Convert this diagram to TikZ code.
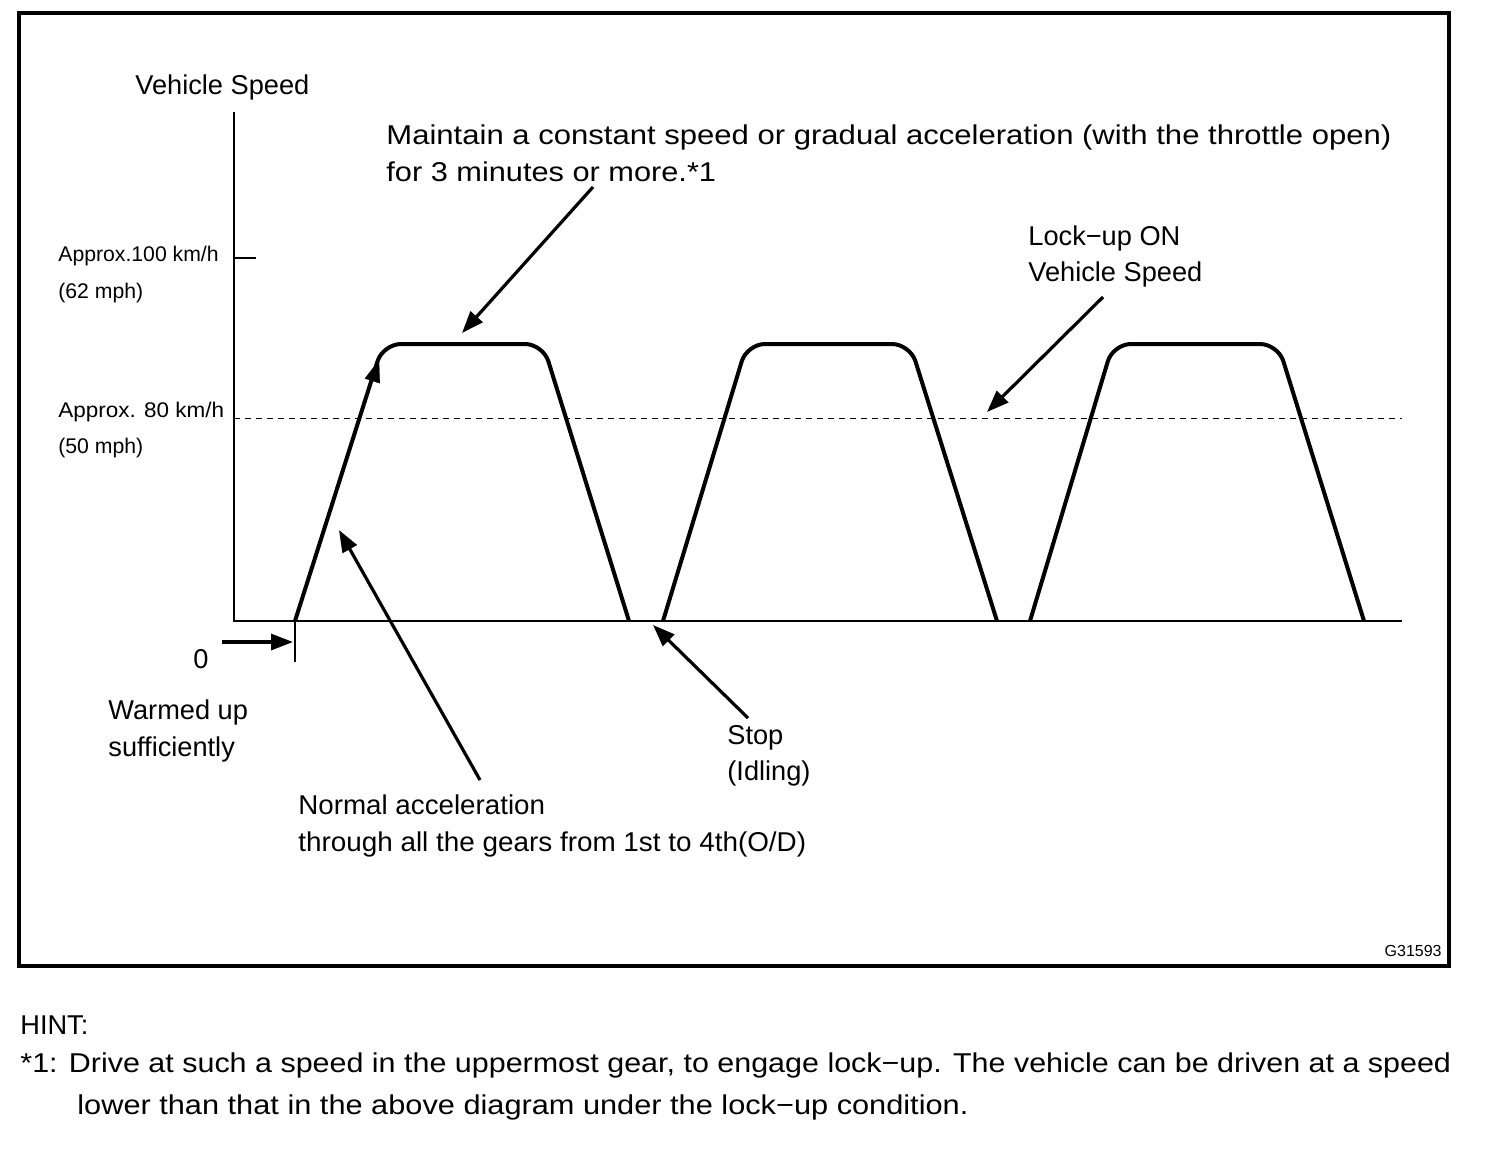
\documentclass[tikz,border=0pt]{standalone}
\usepackage{fontspec}
\usepackage{graphicx}
\setmainfont{Liberation Sans}
\usetikzlibrary{arrows.meta}
\tikzset{
  lbl/.style={anchor=base west,inner sep=0pt,font=\fontsize{13.6}{16}\selectfont},
  small/.style={anchor=base west,inner sep=0pt,font=\fontsize{10.6}{13}\selectfont},
  curve/.style={line width=2pt,rounded corners=9pt},
  axis/.style={line width=1.3pt},
  pointer/.style={line width=1.6pt,-{Triangle[length=11pt,width=8pt]}},
}
\begin{document}
\begin{tikzpicture}[x=0.5pt,y=-0.5pt]
\useasboundingbox (0,0) rectangle (1504,1158);
\draw[line width=1.6pt] (19,13) rectangle (1449,966);
% axes
\coordinate (ytop) at (234,112);
\coordinate (orig) at (234,621);
\coordinate (xend) at (1402,621);
\draw[axis] (ytop) -- (orig) -- (xend);
\draw[axis] (234,258) -- (256,258);
\draw[line width=0.5pt,dash pattern=on 3pt off 2.5pt] (234,418) -- (1402,418);
\draw[line width=0.6pt] (295,621) -- (295,662);
% trapezoids
\draw[curve] (295,621) -- (383,344) -- (543,344) -- (629,621);
\draw[curve] (663,621) -- (747,344) -- (910,344) -- (997,621);
\draw[curve] (1030,621) -- (1113,344) -- (1278,344) -- (1364,621);
\coordinate (rampA) at (360,420);
\coordinate (rampB) at (379,360);
\draw[line width=0.1pt,-{Triangle[length=11pt,width=8pt]}] (rampA) -- (rampB);
% labels
\node[lbl] (vs) at (135,94) {Vehicle Speed};
\node[lbl] (m1) at (386,144) {\scalebox{1.142}[1]{Maintain a constant speed or gradual acceleration (with the throttle open)}};
\node[lbl] (m2) at (386,181) {\scalebox{1.13}[1]{for 3 minutes or more.*1}};
\node[lbl] (l1) at (1028,245) {Lock−up ON};
\node[lbl] (l2) at (1028,281) {Vehicle Speed};
\node[small] (a1) at (58,261) {Approx.100 km/h};
\node[small] (a2) at (58,298) {(62 mph)};
\node[small] (b1) at (58,417) {\scalebox{1.06}[1]{Approx. 80 km/h}};
\node[small] (b2) at (58,453) {(50 mph)};
\node[lbl] (zero) at (193,668) {0};
\node[lbl] (w1) at (108,719) {Warmed up};
\node[lbl] (w2) at (108,756) {sufficiently};
\node[lbl] (s1) at (727,744) {Stop};
\node[lbl] (s2) at (727,780) {(Idling)};
\node[lbl] (n1) at (298,814) {\scalebox{1.02}[1]{Normal acceleration}};
\node[lbl] (n2) at (298,851) {\scalebox{1.024}[1]{through all the gears from 1st to 4th(O/D)}};
\node[anchor=base east,inner sep=0pt,font=\fontsize{8}{9}\selectfont] (code) at (1442,956) {G31593};
\node[lbl] (hint) at (20,1034) {HINT:};
\node[lbl] (h1) at (20,1072) {\scalebox{1.12}[1]{*1: Drive at such a speed in the uppermost gear, to engage lock−up. The vehicle can be driven at a speed}};
\node[lbl] (h2) at (77,1114) {\scalebox{1.13}[1]{lower than that in the above diagram under the lock−up condition.}};
% pointers
\coordinate (pA0) at (593,187); \coordinate (pA1) at (462,333);
\coordinate (pB0) at (480,780); \coordinate (pB1) at (339,530);
\coordinate (pC0) at (748,718); \coordinate (pC1) at (653,625);
\coordinate (pD0) at (1103,297); \coordinate (pD1) at (987,412);
\coordinate (pE0) at (222,642); \coordinate (pE1) at (293,642);
\draw[pointer] (pA0) -- (pA1);
\draw[pointer] (pB0) -- (pB1);
\draw[pointer] (pC0) -- (pC1);
\draw[pointer] (pD0) -- (pD1);
\draw[pointer] (pE0) -- (pE1);
\end{tikzpicture}
\end{document}
